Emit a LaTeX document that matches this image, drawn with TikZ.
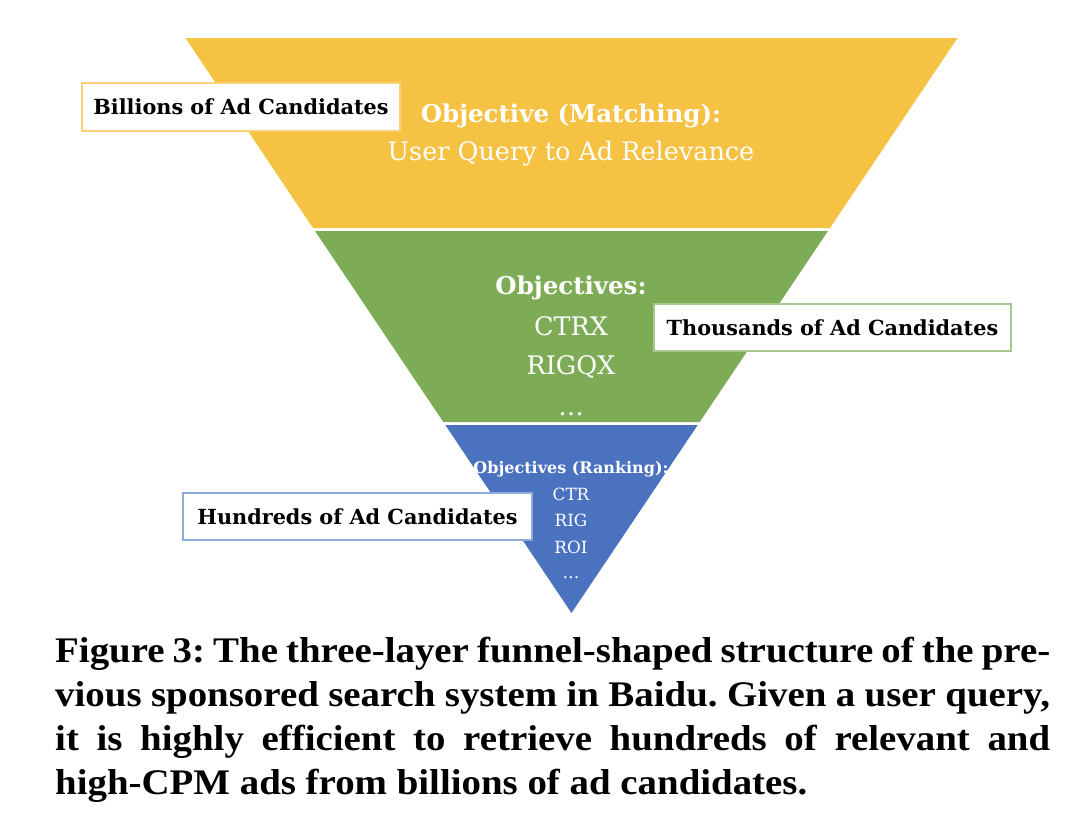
\documentclass[tikz,border=0pt]{standalone}
\usepackage{fontspec}
\setmainfont{DejaVu Serif}
\newfontfamily\capfont[FakeStretch=1.08]{Liberation Serif}
\definecolor{ylw}{HTML}{F6C244}
\definecolor{grn}{HTML}{7EAC56}
\definecolor{blu}{HTML}{4A72BF}
\definecolor{ylwb}{HTML}{F8D27A}
\definecolor{grnb}{HTML}{A8C98E}
\definecolor{blub}{HTML}{8EAADB}
\tikzset{
  lbl/.style={draw, line width=1.4pt, fill=white, inner sep=0pt, font=\bfseries\fontsize{20.8}{22}\selectfont, text=black},
  ft/.style={anchor=base, text=white, inner sep=0pt},
  hd/.style={ft, font=\bfseries\fontsize{24.5}{26}\selectfont},
  tx/.style={ft, font=\fontsize{25.5}{27}\selectfont},
  sh/.style={ft, font=\bfseries\fontsize{16}{18}\selectfont},
  st/.style={ft, font=\fontsize{16.8}{18}\selectfont},
  capline/.style={anchor=base west, inner sep=0pt, font=\capfont\bfseries\fontsize{36}{43}\selectfont\frenchspacing}
}
\begin{document}
\begin{tikzpicture}[x=1pt,y=-1pt]
\useasboundingbox (0,0) rectangle (1080,835);
% funnel layers
\fill[ylw] (185.5,38) -- (957.5,38) -- (830,228) -- (313,228) -- cycle;
\fill[grn] (315,231) -- (828,231) -- (699.7,422) -- (443.3,422) -- cycle;
\fill[blu] (445.3,425) -- (697.7,425) -- (571.5,613) -- cycle;
% texts in the funnel
\node[hd] (om) at (571,122) {Objective (Matching):};
\node[tx] (uq) at (571,160) {User Query to Ad Relevance};
\node[hd] (os) at (571,294) {Objectives:};
\node[tx] (c1) at (571,335) {CTRX};
\node[tx] (c2) at (571,374) {RIGQX};
\node[tx] (c3) at (571,415) {\dots};
\node[sh] (or) at (571,473) {Objectives (Ranking):};
\node[st] (r1) at (571,500) {CTR};
\node[st] (r2) at (571,526) {RIG};
\node[st] (r3) at (571,553) {ROI};
\node[st] (r4) at (571,578) {\dots};
% labels
\node[lbl, draw=ylwb, minimum width=318pt, minimum height=48pt] (bil) at (241,107) {Billions of Ad Candidates};
\node[lbl, draw=grnb, minimum width=357pt, minimum height=47pt] (tho) at (832.5,327.5) {Thousands of Ad Candidates};
\node[lbl, draw=blub, minimum width=349pt, minimum height=47pt] (hun) at (357.5,516.5) {Hundreds of Ad Candidates};
% caption
\node[capline] (l1) at (55,662) {\makebox[995pt][s]{Figure 3: The three-layer funnel-shaped structure of the pre-}};
\node[capline] (l2) at (55,706) {\makebox[995pt][s]{vious sponsored search system in Baidu. Given a user query,}};
\node[capline] (l3) at (55,750) {\makebox[995pt][s]{it is highly efficient to retrieve hundreds of relevant and}};
\node[capline] (l4) at (55,794) {high-CPM ads from billions of ad candidates.};
\end{tikzpicture}
\end{document}
